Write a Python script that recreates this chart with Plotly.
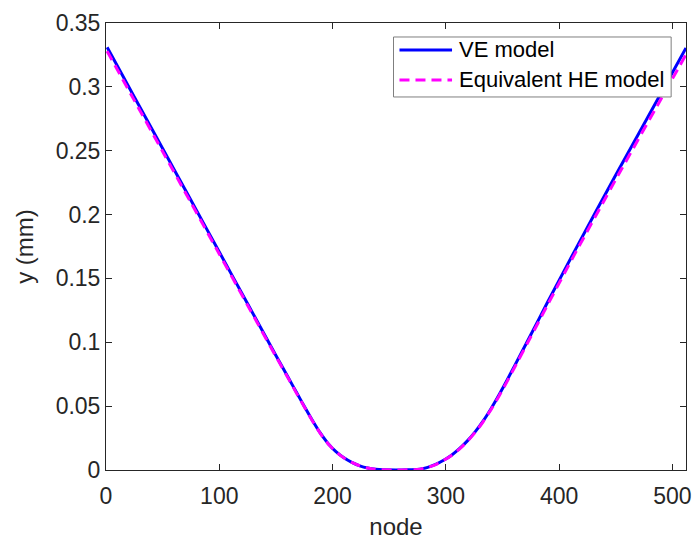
import plotly.graph_objects as go

# Node positions along the sheet
nodes = [1, 25, 50, 75, 100, 125, 150, 161, 168, 175, 182, 189, 196, 203, 210,
         217, 224, 231, 238, 245, 256, 266, 270, 277, 284, 291, 298, 305, 312,
         319, 326, 333, 340, 347, 354, 361, 375, 390, 414, 450, 488, 512]

# Vertical displacement, viscoelastic model (mm)
y_ve = [0.331, 0.292, 0.2517, 0.2112, 0.1707, 0.1302, 0.0897, 0.0722, 0.061,
        0.050, 0.0392, 0.0292, 0.0208, 0.0144, 0.0096, 0.0060, 0.0033, 0.0015,
        0.0005, 0.0001, 0.0, 0.0001, 0.0002, 0.0007, 0.0021, 0.0044, 0.0076,
        0.0116, 0.0167, 0.0228, 0.0301, 0.0385, 0.0482, 0.0589, 0.0703, 0.0821,
        0.1059, 0.1317, 0.172, 0.231, 0.2918, 0.3305]

# Vertical displacement, equivalent hyperelastic model (mm)
y_he = [0.328, 0.2894, 0.2494, 0.2093, 0.1692, 0.129, 0.0889, 0.0716, 0.0604,
        0.0496, 0.0388, 0.0289, 0.0206, 0.0143, 0.0095, 0.0059, 0.0033, 0.0015,
        0.0005, 0.0001, 0.0, 0.0001, 0.0002, 0.0007, 0.0021, 0.0043, 0.0075,
        0.0114, 0.0164, 0.0225, 0.0296, 0.0379, 0.0475, 0.058, 0.0692, 0.0809,
        0.1043, 0.1297, 0.1694, 0.2275, 0.2874, 0.3253]

x_ticks = [0, 100, 200, 300, 400, 500]
y_ticks = [0, 0.05, 0.1, 0.15, 0.2, 0.25, 0.3, 0.35]
y_tick_text = ["0", "0.05", "0.1", "0.15", "0.2", "0.25", "0.3", "0.35"]

series_names = ["VE model", "Equivalent HE model"]
series_colors = ["#0000ff", "#ff00ff"]
series_dash = ["solid", "10px,6px"]

FONT = "Liberation Sans, Arial, sans-serif"
AX = "#262626"

fig = go.Figure()
for name, ys, col, dash in zip(series_names, [y_ve, y_he], series_colors, series_dash):
    fig.add_trace(go.Scatter(x=nodes, y=ys, mode="lines", name=name,
                             line=dict(color=col, width=3, dash=dash,
                                       shape="spline", smoothing=0.5)))

axis_common = dict(showline=True, linecolor=AX, linewidth=1, mirror="ticks",
                   ticks="inside", ticklen=6, tickcolor=AX, tickwidth=1,
                   showgrid=False, zeroline=False,
                   tickfont=dict(family=FONT, size=23, color=AX))

fig.update_xaxes(range=[0, 512], tickvals=x_ticks, ticklabelstandoff=5,
                 title=dict(text="node", font=dict(family=FONT, size=24, color=AX), standoff=10),
                 **axis_common)
fig.update_yaxes(range=[0, 0.35], tickvals=y_ticks, ticktext=y_tick_text,
                 title=dict(text="y (mm)", font=dict(family=FONT, size=24, color=AX), standoff=15),
                 **axis_common)

# Legend box drawn in paper coordinates (top-right corner of the axes)
box_x0, box_x1 = 0.4957, 0.9744
box_y0, box_y1 = 0.8345, 0.9687
row_y = [0.9396, 0.8725]
sample_x0, sample_x1 = 0.506, 0.5966
text_x = 0.6051

fig.add_shape(type="rect", xref="paper", yref="paper",
              x0=box_x0, x1=box_x1, y0=box_y0, y1=box_y1,
              line=dict(color="#7f7f7f", width=1), fillcolor="white", layer="above")
for name, col, dash, ry in zip(series_names, series_colors, series_dash, row_y):
    fig.add_shape(type="line", xref="paper", yref="paper",
                  x0=sample_x0, x1=sample_x1, y0=ry, y1=ry,
                  line=dict(color=col, width=3, dash=dash), layer="above")
    fig.add_annotation(xref="paper", yref="paper", x=text_x, y=ry,
                       xanchor="left", yanchor="middle", showarrow=False,
                       text=name, font=dict(family=FONT, size=22, color="black"))

fig.update_layout(
    width=699, height=543,
    margin=dict(l=106, r=8, t=23, b=73),
    paper_bgcolor="white", plot_bgcolor="white",
    showlegend=False,
)

fig.write_html("out.html")
